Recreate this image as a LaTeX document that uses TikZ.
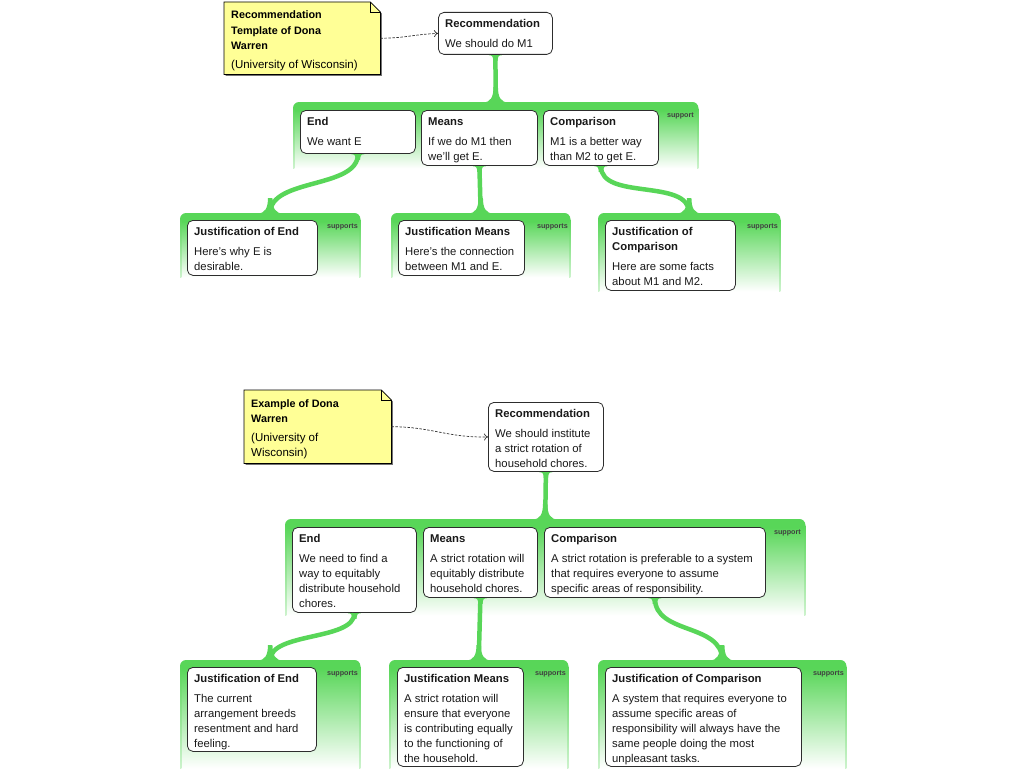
\documentclass[tikz,border=0pt]{standalone}
\usepackage{fontspec}
\setmainfont{Liberation Sans}
\usetikzlibrary{calc,arrows.meta}
\definecolor{G}{RGB}{88,214,88}
\definecolor{notey}{RGB}{255,255,150}
\definecolor{boxline}{RGB}{45,45,45}
\newcommand\tfont{\fontsize{11.3}{15}\selectfont}
\newcommand\nfont{\fontsize{10.8}{15.5}\selectfont}
% group fill: solid top band, then fade to white, plus edge strips
\newcommand\grpfill[1]{%
  \shade[top color=G, bottom color=white] ($(#1.north west)+(0,8)$) rectangle (#1.south east);
  \fill[G] ($(#1.north west)+(0,9)$) [rounded corners=6pt] -- (#1.north west) -- (#1.north east) [sharp corners] -- ($(#1.north east)+(0,9)$) -- cycle;
  \shade[top color=G, bottom color=G!30] ($(#1.north west)+(0,6)$) rectangle ($(#1.south west)+(1.3,0)$);
  \shade[top color=G, bottom color=G!30] ($(#1.north east)+(-1.3,6)$) rectangle (#1.south east);}
% flare where a connector meets a group top
\newcommand\flarebot[1]{%
  \fill[G] ($(#1)+(-13,0.5)$) .. controls ($(#1)+(-5,0.5)$) and ($(#1)+(-2.25,-5)$) .. ($(#1)+(-2.25,-15)$)
    -- ($(#1)+(2.25,-15)$) .. controls ($(#1)+(2.25,-5)$) and ($(#1)+(5,0.5)$) .. ($(#1)+(13,0.5)$) -- cycle;}
% flare where a connector leaves a box bottom
\newcommand\flaretop[1]{%
  \fill[G] ($(#1)+(-6.5,0.4)$) .. controls ($(#1)+(-3,0.4)$) and ($(#1)+(-2.25,2)$) .. ($(#1)+(-2.25,6)$)
    -- ($(#1)+(2.25,6)$) .. controls ($(#1)+(2.25,2)$) and ($(#1)+(3,0.4)$) .. ($(#1)+(6.5,0.4)$) -- cycle;}
% note outline
\newcommand\notedraw[1]{%
  \fill[black!55] ($(#1.north west)+(1.5,1.5)$) -- ($(#1.north east)+(-8.5,1.5)$)
    -- ($(#1.north east)+(1.5,11.5)$) -- ($(#1.south east)+(1.5,1.5)$) -- ($(#1.south west)+(1.5,1.5)$) -- cycle;
  \draw[fill=notey, draw=black, line width=0.8pt] (#1.north west) -- ($(#1.north east)+(-10,0)$)
    -- ($(#1.north east)+(0,10)$) -- (#1.south east) -- (#1.south west) -- cycle;
  \draw[line width=0.6pt] ($(#1.north east)+(-10,0)$) -- ($(#1.north east)+(-10,10)$) -- ($(#1.north east)+(0,10)$);}
% box text
\newcommand\btext[3]{\node[anchor=base west, inner sep=0pt, text=black!90] (#1t) at ($(#1.north west)+(7,15.6)$)
  {\parbox[t]{250pt}{\raggedright\tfont\textbf{#2}\\[4.5pt]#3}};}
\newcommand\ntext[3]{\node[anchor=base west, inner sep=0pt] (#1t) at ($(#1.north west)+(7,17)$)
  {\parbox[t]{200pt}{\raggedright\nfont\textbf{#2}\\[3.5pt]{\fontsize{11.5}{15}\selectfont #3}}};}
\begin{document}
\begin{tikzpicture}[x=1pt,y=-1pt,
  grp/.style={inner sep=0pt, anchor=north west},
  cbox/.style={draw=boxline, fill=white, rounded corners=5.5pt, line width=0.8pt, inner sep=0pt, anchor=north west},
  notebox/.style={inner sep=0pt, anchor=north west},
  conn/.style={draw=G, line width=4.5pt},
  suplab/.style={font=\fontsize{7.2}{8}\selectfont\bfseries, text=black!75, inner sep=0pt},
  darrow/.style={dashed, dash pattern=on 2.5pt off 1.5pt, draw=black!80, line width=0.7pt, -{To[length=4pt,width=7pt]}}
]
\useasboundingbox (0,0) rectangle (1024,768);
\fill[white] (0,0) rectangle (1024,768);

% ---------------- groups ----------------
\node[grp, minimum width=405pt, minimum height=66pt] (grp1) at (293,102) {};
\node[grp, minimum width=180pt, minimum height=64pt] (grpJE1) at (180,213) {};
\node[grp, minimum width=179pt, minimum height=64pt] (grpJM1) at (391,213) {};
\node[grp, minimum width=182pt, minimum height=78pt] (grpJC1) at (598,213) {};
\node[grp, minimum width=520pt, minimum height=96pt] (grp2) at (285,519) {};
\node[grp, minimum width=180pt, minimum height=108pt] (grpJE2) at (180,660) {};
\node[grp, minimum width=179pt, minimum height=108pt] (grpJM2) at (389,660) {};
\node[grp, minimum width=248pt, minimum height=108pt] (grpJC2) at (598,660) {};
\foreach \g in {grp1,grpJE1,grpJM1,grpJC1,grp2,grpJE2,grpJM2,grpJC2} {\grpfill{\g}}

\node[suplab] (sup1) at ($(grp1.north east)+(-18,13.5)$) {support};
\node[suplab] (supJE1) at ($(grpJE1.north east)+(-18,13.5)$) {supports};
\node[suplab] (supJM1) at ($(grpJM1.north east)+(-18,13.5)$) {supports};
\node[suplab] (supJC1) at ($(grpJC1.north east)+(-18,13.5)$) {supports};
\node[suplab] (sup2) at ($(grp2.north east)+(-18,13.5)$) {support};
\node[suplab] (supJE2) at ($(grpJE2.north east)+(-18,13.5)$) {supports};
\node[suplab] (supJM2) at ($(grpJM2.north east)+(-18,13.5)$) {supports};
\node[suplab] (supJC2) at ($(grpJC2.north east)+(-18,13.5)$) {supports};

% ---------------- notes ----------------
\node[notebox, minimum width=156pt, minimum height=72pt] (note1) at (224,2) {};
\notedraw{note1}
\ntext{note1}{Recommendation\\Template of Dona\\Warren}{(University of Wisconsin)}
\node[notebox, minimum width=147pt, minimum height=73pt] (note2) at (244,390) {};
\notedraw{note2}
\ntext{note2}{Example of Dona\\Warren}{(University of\\Wisconsin)}

% ---------------- boxes ----------------
\node[cbox, minimum width=114pt, minimum height=42pt] (rec1) at (438,12) {};
\node[cbox, minimum width=115pt, minimum height=43pt] (end1) at (300,110) {};
\node[cbox, minimum width=116pt, minimum height=55pt] (means1) at (421,110) {};
\node[cbox, minimum width=115pt, minimum height=55pt] (comp1) at (543,110) {};
\node[cbox, minimum width=130pt, minimum height=55pt] (JE1) at (187,220) {};
\node[cbox, minimum width=126pt, minimum height=55pt] (JM1) at (398,220) {};
\node[cbox, minimum width=130pt, minimum height=70pt] (JC1) at (605,220) {};

\node[cbox, minimum width=115pt, minimum height=69pt] (rec2) at (488,402) {};
\node[cbox, minimum width=124pt, minimum height=85pt] (end2) at (292,527) {};
\node[cbox, minimum width=114pt, minimum height=70pt] (means2) at (423,527) {};
\node[cbox, minimum width=221pt, minimum height=70pt] (comp2) at (544,527) {};
\node[cbox, minimum width=129pt, minimum height=84pt] (JE2) at (187,667) {};
\node[cbox, minimum width=126pt, minimum height=99pt] (JM2) at (397,667) {};
\node[cbox, minimum width=196pt, minimum height=99pt] (JC2) at (605,667) {};

% ---------------- connectors ----------------
\draw[conn] ($(rec1.south)+(0,0.4)$) -- (grp1.north);
\draw[conn] ($(end1.south)+(0,0.4)$) .. controls ($(end1.south)+(0,35)$) and ($(grpJE1.north)+(0,-35)$) .. (grpJE1.north);
\draw[conn] ($(means1.south)+(0,0.4)$) -- (grpJM1.north);
\draw[conn] ($(comp1.south)+(0,0.4)$) .. controls ($(comp1.south)+(0,35)$) and ($(grpJC1.north)+(0,-35)$) .. (grpJC1.north);
\draw[conn] ($(rec2.south)+(0,0.4)$) -- (grp2.north);
\draw[conn] ($(end2.south)+(0,0.4)$) .. controls ($(end2.south)+(0,28)$) and ($(grpJE2.north)+(0,-28)$) .. (grpJE2.north);
\draw[conn] ($(means2.south)+(0,0.4)$) -- (grpJM2.north);
\draw[conn] ($(comp2.south)+(0,0.4)$) .. controls ($(comp2.south)+(0,37)$) and ($(grpJC2.north)+(0,-37)$) .. (grpJC2.north);
\foreach \n in {rec1,end1,means1,comp1,rec2,end2,means2,comp2} {\flaretop{\n.south}}
\foreach \n in {grp1,grpJE1,grpJM1,grpJC1,grp2,grpJE2,grpJM2,grpJC2} {\flarebot{\n.north}}

% ---------------- texts ----------------
\btext{rec1}{Recommendation}{We should do M1}
\btext{end1}{End}{We want E}
\btext{means1}{Means}{If we do M1 then\\we'll get E.}
\btext{comp1}{Comparison}{M1 is a better way\\than M2 to get E.}
\btext{JE1}{Justification of End}{Here's why E is\\desirable.}
\btext{JM1}{Justification Means}{Here's the connection\\between M1 and E.}
\btext{JC1}{Justification of\\Comparison}{Here are some facts\\about M1 and M2.}

\btext{rec2}{Recommendation}{We should institute\\a strict rotation of\\household chores.}
\btext{end2}{End}{We need to find a\\way to equitably\\distribute household\\chores.}
\btext{means2}{Means}{A strict rotation will\\equitably distribute\\household chores.}
\btext{comp2}{Comparison}{A strict rotation is preferable to a system\\that requires everyone to assume\\specific areas of responsibility.}
\btext{JE2}{Justification of End}{The current\\arrangement breeds\\resentment and hard\\feeling.}
\btext{JM2}{Justification Means}{A strict rotation will\\ensure that everyone\\is contributing equally\\to the functioning of\\the household.}
\btext{JC2}{Justification of Comparison}{A system that requires everyone to\\assume specific areas of\\responsibility will always have the\\same people doing the most\\unpleasant tasks.}

% ---------------- dashed arrows ----------------
\draw[darrow] (note1.east) .. controls +(25,0) and +(-25,1) .. (rec1.west);
\draw[darrow] (note2.east) .. controls +(40,0) and +(-40,1) .. (rec2.west);
\end{tikzpicture}
\end{document}
